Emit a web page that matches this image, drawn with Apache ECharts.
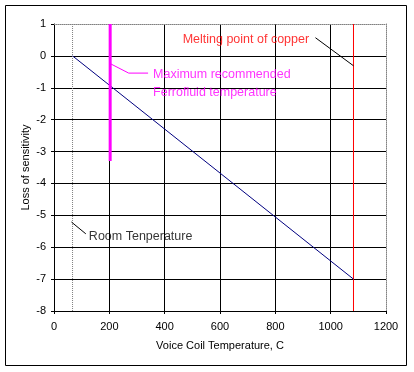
<!DOCTYPE html>
<html><head><meta charset="utf-8">
<script src="https://cdn.jsdelivr.net/npm/echarts@6/dist/echarts.min.js"></script>
<style>html,body{margin:0;padding:0;background:#fff}#c{width:414px;height:372px}</style>
</head><body><div id="c"></div>
<script>
// Data
const xTicks = [0, 200, 400, 600, 800, 1000, 1200];
const yTicks = [-8, -7, -6, -5, -4, -3, -2, -1, 0, 1];
const sensitivityLine = [[67, 0], [1082.5, -7]];
const ferroLine = [[203, 1], [203, -3.3]];
const copperLine = [[1082.5, 1], [1082.5, -8]];
const roomLine = [[67, 1], [67, -8]];
// Annotations (data coords)
const copperLabel = {text: 'Melting point of copper', at: [465, 0.52]};
const copperLeader = [[945, 0.57], [1082.5, -0.31]];
const ferroLabel1 = {text: 'Maximum recommended', at: [358, -0.6]};
const ferroLabel2 = {text: 'Ferrofluid temperature', at: [358, -1.15]};
const ferroLeader = [[205, -0.25], [270, -0.54], [340, -0.54]];
const roomLabel = {text: 'Room Tenperature', at: [126, -5.66]};
const roomLeader = [[63, -5.21], [115, -5.58]];

const FONT = 'Liberation Sans, Arial, sans-serif';
function lineSeries(data, color, width, type, z) {
  return {type: 'line', data: data, symbol: 'none', silent: true, z: z || 3,
    lineStyle: {color: color, width: width, type: type || 'solid'}, animation: false};
}
function textSeries(lbl, color) {
  return {type: 'scatter', data: [lbl.at], symbolSize: 0, silent: true, animation: false, z: 6,
    label: {show: true, position: 'right', distance: 0, formatter: lbl.text, color: color,
      fontFamily: FONT, fontSize: 12.5}};
}
const chart = echarts.init(document.getElementById('c'), null, {renderer: 'canvas'});
chart.setOption({
  backgroundColor: '#fff',
  animation: false,
  grid: {left: 54, right: 28, top: 24, bottom: 61},
  xAxis: [{
    type: 'value', min: xTicks[0], max: xTicks[xTicks.length - 1], interval: 200,
    name: 'Voice Coil Temperature, C', nameLocation: 'middle', nameGap: 29, nameMoveOverlap: false,
    nameTextStyle: {color: '#000', fontFamily: FONT, fontSize: 11},
    axisLine: {show: true, onZero: false, lineStyle: {color: '#000', width: 1}},
    axisTick: {show: true, length: 3, inside: false, lineStyle: {color: '#000'}},
    axisLabel: {color: '#000', fontFamily: FONT, fontSize: 11, margin: 10, formatter: v => String(v)},
    splitLine: {show: true, showMinLine: false, showMaxLine: false, lineStyle: {color: '#000', width: 1}}
  }, {
    type: 'value', position: 'top', min: xTicks[0], max: xTicks[xTicks.length - 1],
    axisLine: {show: true, onZero: false, lineStyle: {color: '#808080', type: 'dotted'}},
    axisTick: {show: false}, axisLabel: {show: false}, splitLine: {show: false}
  }],
  yAxis: [{
    type: 'value', min: yTicks[0], max: yTicks[yTicks.length - 1], interval: 1,
    name: 'Loss of sensitivity', nameLocation: 'middle', nameGap: 23, nameMoveOverlap: false,
    nameTextStyle: {color: '#000', fontFamily: FONT, fontSize: 11},
    axisLine: {show: true, onZero: false, lineStyle: {color: '#000', width: 1}},
    axisTick: {show: true, length: 3, lineStyle: {color: '#000'}},
    axisLabel: {color: '#000', fontFamily: FONT, fontSize: 11, margin: 8},
    splitLine: {show: true, showMinLine: false, showMaxLine: false, lineStyle: {color: '#000', width: 1}}
  }, {
    type: 'value', position: 'right', min: yTicks[0], max: yTicks[yTicks.length - 1],
    axisLine: {show: true, onZero: false, lineStyle: {color: '#808080', type: 'dotted'}},
    axisTick: {show: false}, axisLabel: {show: false}, splitLine: {show: false}
  }],
  graphic: [{type: 'rect', shape: {x: 5.5, y: 5.5, width: 401, height: 360},
    style: {fill: 'none', stroke: '#000', lineWidth: 1}, silent: true}],
  series: [
    lineSeries(roomLine, '#808080', 1, 'dotted', 2),
    lineSeries(copperLine, '#FF0000', 1, 'solid', 3),
    lineSeries(sensitivityLine, '#000080', 1, 'solid', 4),
    lineSeries(ferroLine, '#FF00FF', 3, 'solid', 5),
    lineSeries(copperLeader, '#000', 1, 'solid', 5),
    lineSeries(ferroLeader, '#FF00FF', 1, 'solid', 5),
    lineSeries(roomLeader, '#000', 1, 'solid', 5),
    textSeries(copperLabel, '#FF0000'),
    textSeries(ferroLabel1, '#FF00FF'),
    textSeries(ferroLabel2, '#FF00FF'),
    textSeries(roomLabel, '#000')
  ]
});
</script></body></html>
